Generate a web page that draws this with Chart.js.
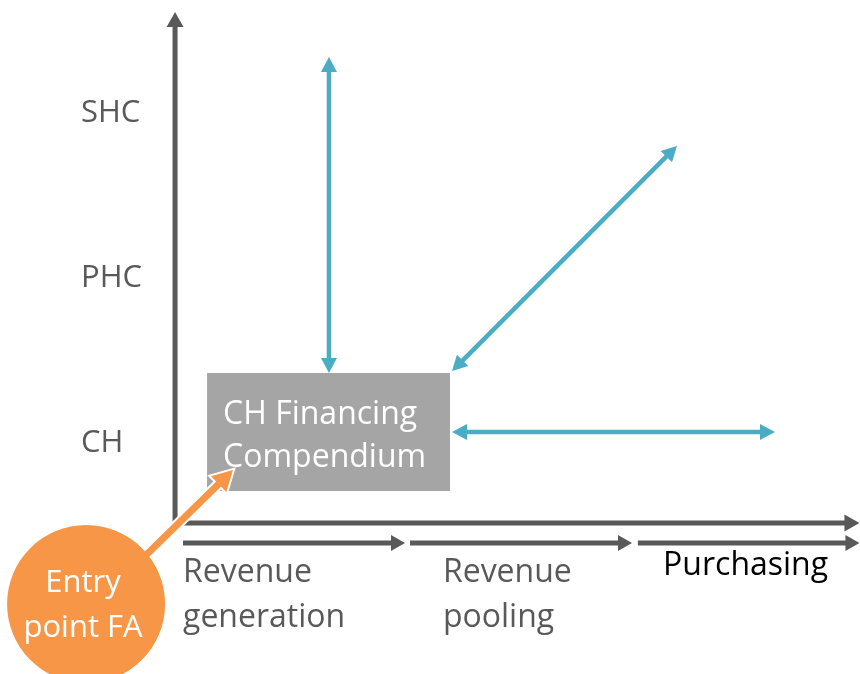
<!DOCTYPE html>
<html>
<head>
<meta charset="utf-8">
<script src="https://cdn.jsdelivr.net/npm/chart.js@4"></script>
<style>
  html, body { margin: 0; padding: 0; background: #ffffff; }
  canvas { display: block; }
</style>
</head>
<body>
<canvas id="c" width="860" height="674"></canvas>
<script>
// ---------------- data ----------------
// vertical axis: levels of care (value = level index)
const levels = ['CH', 'PHC', 'SHC'];
const levelValues = [0, 1, 2];
// horizontal axis: financing functions (stage i spans x = i .. i+1)
const stageLabels = [['Revenue', 'generation'], ['Revenue', 'pooling'], ['Purchasing']];
const stageStarts = [0, 1.0, 2.004];
const stageEnds = [0.978, 1.978, 2.98];
const stageAxisLevel = -0.624;
// main axes
const yAxisLine = [{ x: -0.035, y: -0.497 }, { x: -0.035, y: 2.594 }];
const xAxisLine = [{ x: -0.035, y: -0.503 }, { x: 2.98, y: -0.503 }];
// box "CH Financing Compendium"
const boxTitle = ['CH Financing', 'Compendium'];
const boxCorners = [{ x: 0.106, y: 0.406 }, { x: 1.176, y: -0.309 }];
// blue links from the compendium
const linkToSHC = [{ x: 0.643, y: 0.406 }, { x: 0.643, y: 2.321 }];
const linkDiagonal = [{ x: 1.185, y: 0.418 }, { x: 2.176, y: 1.782 }];
const linkAlongCH = [{ x: 1.185, y: 0.048 }, { x: 2.608, y: 0.048 }];
// entry point
const entryTitle = ['Entry', 'point FA'];
const entryCenter = [{ x: -0.427, y: -0.994 }];
const entryArrow = [{ x: -0.167, y: -0.703 }, { x: 0.220, y: -0.182 }];

// ---------------- styles ----------------
const GRAY = '#595959';
const BLUE = '#4bacc6';
const ORANGE = '#f79646';
const BOX = '#a5a5a5';
const FONT = '"Open Sans", "Noto Sans", sans-serif';

function lineSet(data, color, width, heads, headLen, headW, order, extra) {
  return Object.assign({
    data: data, showLine: true, borderColor: color, borderWidth: width,
    pointRadius: 0, pointHoverRadius: 0, borderCapStyle: 'butt',
    heads: heads, headLen: headLen, headW: headW, headColor: color, order: order
  }, extra || {});
}

const datasets = [
  lineSet(yAxisLine, GRAY, 5, ['end'], 15, 17, 50),
  lineSet(xAxisLine, GRAY, 5, ['end'], 15, 17, 50),
  lineSet([{ x: stageStarts[0], y: stageAxisLevel }, { x: stageEnds[0], y: stageAxisLevel }], GRAY, 5, ['end'], 14, 16, 50),
  lineSet([{ x: stageStarts[1], y: stageAxisLevel }, { x: stageEnds[1], y: stageAxisLevel }], GRAY, 5, ['end'], 14, 16, 50),
  lineSet([{ x: stageStarts[2], y: stageAxisLevel }, { x: stageEnds[2], y: stageAxisLevel }], GRAY, 5, ['end'], 14, 16, 50),
  lineSet(linkToSHC, BLUE, 4.5, ['start', 'end'], 15, 16, 40),
  lineSet(linkDiagonal, BLUE, 4.5, ['start', 'end'], 15, 16, 40),
  lineSet(linkAlongCH, BLUE, 4.5, ['start', 'end'], 15, 16, 40),
  lineSet(entryArrow, '#ffffff', 11, ['end'], 20, 22, 30, { headOutline: 4 }),
  lineSet(entryArrow, ORANGE, 7, ['end'], 20, 22, 20),
  { data: entryCenter, showLine: false, pointRadius: 79, pointHoverRadius: 79,
    pointBackgroundColor: ORANGE, pointBorderWidth: 0, pointBorderColor: ORANGE, order: 10 }
];

// arrowheads: shorten line ends to the head base, then draw the heads
const arrowPlugin = {
  id: 'arrowheads',
  beforeDatasetsDraw(chart) {
    const xs = chart.scales.x, ys = chart.scales.y;
    chart.data.datasets.forEach((ds, i) => {
      if (!ds.heads) return;
      const meta = chart.getDatasetMeta(i);
      const pts = meta.data;
      const n = ds.data.length;
      const px = ds.data.map(d => [xs.getPixelForValue(d.x), ys.getPixelForValue(d.y)]);
      ds._tips = [];
      ds.heads.forEach(h => {
        const a = h === 'end' ? n - 1 : 0;
        const b = h === 'end' ? n - 2 : 1;
        const dx = px[a][0] - px[b][0], dy = px[a][1] - px[b][1];
        const L = Math.hypot(dx, dy);
        const ux = dx / L, uy = dy / L;
        ds._tips.push({ x: px[a][0], y: px[a][1], ux, uy });
        const back = ds.headLen * 0.8;
        pts[a].x = px[a][0] - ux * back;
        pts[a].y = px[a][1] - uy * back;
      });
    });
  },
  afterDatasetDraw(chart, args) {
    const ds = chart.data.datasets[args.index];
    if (!ds._tips) return;
    const ctx = chart.ctx;
    ctx.save();
    ds._tips.forEach(t => {
      const bx = t.x - t.ux * ds.headLen, by = t.y - t.uy * ds.headLen;
      const nx = -t.uy, ny = t.ux, w = ds.headW / 2;
      ctx.beginPath();
      ctx.moveTo(t.x, t.y);
      ctx.lineTo(bx + nx * w, by + ny * w);
      ctx.lineTo(bx - nx * w, by - ny * w);
      ctx.closePath();
      ctx.fillStyle = ds.headColor;
      ctx.fill();
      if (ds.headOutline) {
        ctx.lineWidth = ds.headOutline;
        ctx.strokeStyle = ds.headColor;
        ctx.lineJoin = 'miter';
        ctx.stroke();
      }
    });
    ctx.restore();
  }
};

// box, axis labels and texts
const labelPlugin = {
  id: 'labels',
  beforeDatasetsDraw(chart) {
    const ctx = chart.ctx, xs = chart.scales.x, ys = chart.scales.y;
    ctx.save();
    const x0 = xs.getPixelForValue(boxCorners[0].x), y0 = ys.getPixelForValue(boxCorners[0].y);
    const x1 = xs.getPixelForValue(boxCorners[1].x), y1 = ys.getPixelForValue(boxCorners[1].y);
    ctx.fillStyle = BOX;
    ctx.fillRect(x0, y0, x1 - x0, y1 - y0);
    ctx.fillStyle = '#ffffff';
    ctx.font = '32px ' + FONT;
    ctx.textBaseline = 'alphabetic';
    ctx.textAlign = 'left';
    ctx.fillText(boxTitle[0], x0 + 16, y0 + 51);
    ctx.fillText(boxTitle[1], x0 + 16, y0 + 94);
    ctx.restore();
  },
  afterDatasetsDraw(chart) {
    const ctx = chart.ctx, xs = chart.scales.x, ys = chart.scales.y;
    ctx.save();
    ctx.textBaseline = 'alphabetic';
    ctx.font = '31px ' + FONT;
    // level labels
    ctx.fillStyle = GRAY;
    ctx.textAlign = 'left';
    levels.forEach((lab, i) => {
      ctx.fillText(lab, 81, ys.getPixelForValue(levelValues[i]) + 12);
    });
    // stage labels
    ctx.font = '32px ' + FONT;
    const base = ys.getPixelForValue(stageAxisLevel);
    const stageX = [0, 1.145, 2.115];
    const stageBase = [39, 39, 32];
    const stageColor = [GRAY, GRAY, '#000000'];
    stageLabels.forEach((lines, i) => {
      ctx.fillStyle = stageColor[i];
      lines.forEach((t, k) => {
        ctx.fillText(t, xs.getPixelForValue(stageX[i]), base + stageBase[i] + k * 45);
      });
    });
    // entry point text
    ctx.font = '31px ' + FONT;
    ctx.fillStyle = '#ffffff';
    ctx.textAlign = 'center';
    const cx = xs.getPixelForValue(entryCenter[0].x) - 3, cy = ys.getPixelForValue(entryCenter[0].y);
    ctx.fillText(entryTitle[0], cx, cy - 12);
    ctx.fillText(entryTitle[1], cx, cy + 33);
    ctx.restore();
  }
};

new Chart(document.getElementById('c'), {
  type: 'scatter',
  data: { datasets: datasets },
  options: {
    responsive: false,
    animation: false,
    devicePixelRatio: 1,
    events: [],
    layout: { padding: 0, autoPadding: false },
    scales: {
      x: { type: 'linear', min: -0.8062, max: 2.9824, display: false },
      y: { type: 'linear', min: -1.4182, max: 2.6667, display: false }
    },
    plugins: { legend: { display: false }, tooltip: { enabled: false } }
  },
  plugins: [arrowPlugin, labelPlugin]
});
</script>
</body>
</html>
